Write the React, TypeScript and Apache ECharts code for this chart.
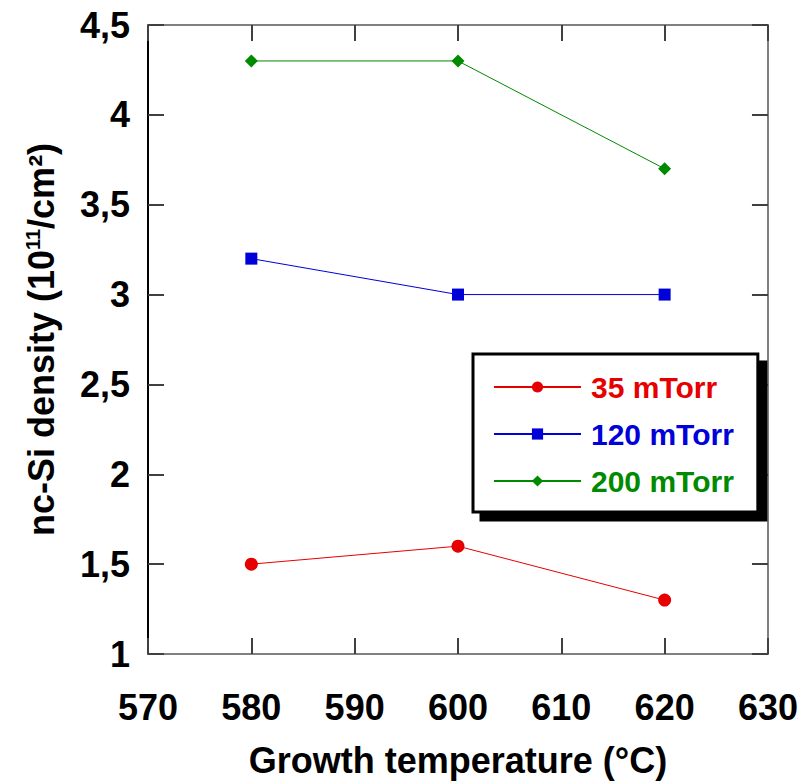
import React, { useEffect, useRef } from "react";
import * as echarts from "echarts";

const temps = [580, 600, 620];
const s35 = [1.5, 1.6, 1.3];
const s120 = [3.2, 3.0, 3.0];
const s200 = [4.3, 4.3, 3.7];
const seriesNames = ["35 mTorr", "120 mTorr", "200 mTorr"];
const colors = ["#e60000", "#0000d8", "#008a00"];

const FONT = "Arial, 'Liberation Sans', sans-serif";

export default function App() {
  const ref = useRef<HTMLDivElement>(null);
  useEffect(() => {
    if (!ref.current) return;
    const chart = echarts.init(ref.current, null, { renderer: "svg" });
    const mk = (vals: number[]) => temps.map((t, i) => [t, vals[i]]);
    const gray = "#808080";
    const tickStyle = { show: true, inside: true, length: 16, lineStyle: { color: "#404040", width: 2 } };
    const fmtY = (v: number) => String(v).replace(".", ",");
    chart.setOption({
      animation: false,
      backgroundColor: "#ffffff",
      grid: { left: 148, top: 25, right: 33, bottom: 124, containLabel: false },
      xAxis: [
        {
          type: "value", min: 570, max: 630, interval: 10, position: "bottom",
          axisLine: { show: true, onZero: false, lineStyle: { color: gray, width: 2 } },
          axisTick: tickStyle,
          splitLine: { show: false },
          axisLabel: { margin: 35, fontSize: 36, fontWeight: "bold", color: "#000", fontFamily: FONT },
          name: "Growth temperature (°C)", nameLocation: "middle", nameGap: 88,
          nameTextStyle: { fontSize: 36, fontWeight: "bold", color: "#000", fontFamily: FONT },
        },
        {
          type: "value", min: 570, max: 630, interval: 10, position: "top",
          axisLine: { show: true, onZero: false, lineStyle: { color: gray, width: 2 } },
          axisTick: tickStyle, axisLabel: { show: false }, splitLine: { show: false },
        },
      ],
      yAxis: [
        {
          type: "value", min: 1, max: 4.5, interval: 0.5, position: "left",
          axisLine: { show: true, onZero: false, lineStyle: { color: "#000", width: 2 } },
          axisTick: tickStyle,
          splitLine: { show: false },
          axisLabel: { margin: 18, fontSize: 36, fontWeight: "bold", color: "#000", fontFamily: FONT, formatter: fmtY },
          name: "{a|nc-Si density (10}{s|11}{a|/cm²)}", nameLocation: "middle", nameGap: 89, nameRotate: 90,
          nameTextStyle: {
            fontFamily: FONT, color: "#000",
            rich: {
              a: { fontSize: 36, fontWeight: "bold", fontFamily: FONT, color: "#000" },
              s: { fontSize: 20, fontWeight: "bold", fontFamily: FONT, color: "#000", verticalAlign: "top", lineHeight: 36, padding: [0, 0, 14, 0] },
            },
          },
        },
        {
          type: "value", min: 1, max: 4.5, interval: 0.5, position: "right",
          axisLine: { show: true, onZero: false, lineStyle: { color: gray, width: 2 } },
          axisTick: tickStyle, axisLabel: { show: false }, splitLine: { show: false },
        },
      ],
      legend: {
        orient: "vertical", left: 473, top: 354,
        itemWidth: 87, itemHeight: 14, itemGap: 17,
        padding: [18, 24, 16, 20],
        backgroundColor: "#fff", borderColor: "#000", borderWidth: 3,
        shadowColor: "#000", shadowBlur: 0, shadowOffsetX: 8, shadowOffsetY: 8,
        textStyle: { fontSize: 30, fontWeight: "bold", fontFamily: FONT, padding: [0, 0, 0, 5] },
        data: seriesNames.map((n, i) => ({ name: n, textStyle: { color: colors[i], fontSize: 30, fontWeight: "bold", fontFamily: FONT, padding: [0, 0, 0, 5] } })),
      },
      series: [
        { name: seriesNames[0], type: "line", data: mk(s35), symbol: "circle", symbolSize: 13, color: colors[0], lineStyle: { width: 1, color: colors[0] } },
        { name: seriesNames[1], type: "line", data: mk(s120), symbol: "rect", symbolSize: 12, color: colors[1], lineStyle: { width: 1, color: colors[1] } },
        { name: seriesNames[2], type: "line", data: mk(s200), symbol: "diamond", symbolSize: 13, color: colors[2], lineStyle: { width: 1, color: colors[2] } },
      ],
    });
    return () => chart.dispose();
  }, []);
  return <div ref={ref} style={{ width: 801, height: 783, position: "absolute", left: 0, top: 0 }} />;
}
